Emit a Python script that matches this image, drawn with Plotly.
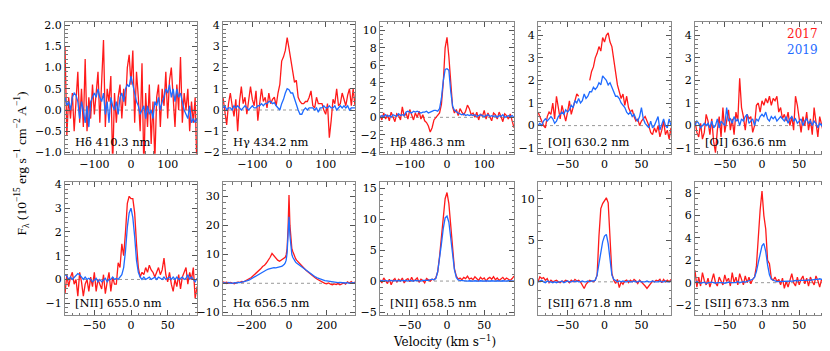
import plotly.graph_objects as go
from plotly.subplots import make_subplots

# velocity grids (km/s)
v180 = [-180, -175, -170, -165, -160, -155, -150, -145, -140, -135, -130, -125, -120, -115, -110, -105,
        -100, -95, -90, -85, -80, -75, -70, -65, -60, -55, -50, -45, -40, -35, -30, -25, -20, -15, -10, -5,
        0, 5, 10, 15, 20, 25, 30, 35, 40, 45, 50, 55, 60, 65, 70, 75, 80, 85, 90, 95, 100, 105, 110, 115,
        120, 125, 130, 135, 140, 145, 150, 155, 160, 165, 170, 175, 180]
v90 = [-90, -87.5, -85, -82.5, -80, -77.5, -75, -72.5, -70, -67.5, -65, -62.5, -60, -57.5, -55, -52.5,
       -50, -47.5, -45, -42.5, -40, -37.5, -35, -32.5, -30, -27.5, -25, -22.5, -20, -17.5, -15, -12.5,
       -10, -7.5, -5, -2.5, 0, 2.5, 5, 7.5, 10, 12.5, 15, 17.5, 20, 22.5, 25, 27.5, 30, 32.5, 35, 37.5,
       40, 42.5, 45, 47.5, 50, 52.5, 55, 57.5, 60, 62.5, 65, 67.5, 70, 72.5, 75, 77.5, 80, 82.5, 85, 87.5, 90]
v350 = [-350, -340, -330, -320, -310, -300, -290, -280, -270, -260, -250, -240, -230, -220, -210, -200,
        -190, -180, -170, -160, -150, -140, -130, -120, -110, -100, -90, -80, -70, -60, -50, -40,
        -35, -30, -25, -20, -15, -10, -5, 0, 5, 10, 15, 20, 25, 30, 35,
        40, 50, 60, 70, 80, 90, 100, 110, 120, 130, 140, 150, 160, 170, 180, 190, 200, 210, 220, 230,
        240, 250, 260, 270, 280, 290, 300, 310, 320, 330, 340, 350]

# H delta 410.3
hd_2017 = [1.5, -0.6, 0.3, -0.2, 0.4, -0.5, 0.2, 0.9, -0.3, 0.5,
           -0.4, 1.2, -0.5, 0.3, -0.2, 0.6, -0.1, 0.4, 0.9, -0.3,
           0.7, 1.65, -0.4, 0.5, 0.2, 0.8, -1.3, 0.4, -0.3, 0.3,
           0.6, -0.2, 0.5, 0.1, 1.0, 1.3, 0.6, 1.4, -0.3, 0.9,
           0.3, -0.5, 1.1, -1.4, 0.4, -0.4, 0.6, -0.8, 0.2, -1.2,
           0.3, 0.6, -0.4, 0.5, 0.1, 0.9, -0.2, 0.7, 1.0, 0.2,
           -0.4, 0.6, 0.0, 1.25, -0.3, 0.4, 0.0, 0.5, -0.5, 0.2,
           -0.3, 0.3, -1.5]
hd_2019 = [0.3, 0.1, 0.2, 0.0, 0.3, 0.4, 0.35, 0.2, -0.2, 0.2,
           0.0, -0.3, 0.1, -0.4, 0.2, 0.3, 0.4, 0.3, 0.5, 0.3,
           0.2, 0.4, -0.1, 0.2, -0.3, 0.3, 0.1, 0.0, 0.2, -0.1,
           0.3, 0.4, 0.2, 0.5, 0.6, 0.55, 0.8, 0.6, 0.4, 0.2,
           0.1, -0.1, 0.0, 0.1, -0.2, 0.1, -0.1, 0.0, -0.2, 0.2,
           0.1, 0.3, 0.0, 0.2, 0.3, 0.5, 0.4, 0.6, 0.3, 0.5,
           0.2, 0.5, 0.3, 0.4, 0.2, 0.0, -0.1, -0.2, 0.1, -0.3,
           -0.2, -0.3, -0.2]

# H gamma 434.2
hg_2017 = [0.6, -0.2, -0.7, 0.3, 0.8, 0.2, -0.3, 0.5, -1.0, 0.4,
           1.1, 0.3, 0.6, -0.2, 0.4, 1.1, 0.5, 0.2, 0.9, -0.5,
           0.3, 1.0, 0.4, 0.6, 0.1, 0.8, 0.3, 0.5, 0.6, 0.2,
           0.8, 1.2, 2.3, 2.5, 2.8, 3.4, 2.9, 2.4, 1.9, 1.3,
           1.4, 0.6, 0.4, 0.3, 0.3, 0.4, 0.4, 0.6, 0.9, 0.2,
           0.1, 0.6, 0.3, 0.3, 0.3, 0.0, -0.2, 0.3, -1.3, -0.5,
           0.5, 0.3, 1.0, 0.2, 0.3, 0.8, 0.5, 0.2, 0.7, 1.0,
           0.2, 1.0, 0.2]
hg_2019 = [0.1, 0.2, 0.0, 0.1, 0.1, 0.0, 0.2, 0.1, 0.2, 0.1,
           0.0, 0.1, 0.2, 0.1, 0.0, 0.1, 0.2, 0.1, 0.1, 0.2,
           0.2, 0.3, 0.2, 0.3, 0.3, 0.4, 0.4, 0.3, 0.35, 0.2,
           0.1, 0.0, 0.3, 0.5, 0.8, 1.0, 0.95, 0.8, 0.8, 0.5,
           0.3, 0.0, -0.2, -0.2, 0.0, 0.1, 0.0, 0.1, 0.1, 0.1,
           0.0, 0.1, -0.1, 0.1, 0.1, 0.2, 0.1, 0.1, 0.2, 0.1,
           0.1, 0.2, 0.0, 0.1, 0.2, 0.1, 0.2, 0.1, 0.2, 0.0,
           0.1, 0.1, 0.1]

# H beta 486.3
hb_2017 = [0.2, -0.3, 0.5, -0.2, 0.3, -0.4, 0.6, 0.0, -0.5, 0.4,
           0.2, -0.3, 1.2, 0.1, 0.5, -0.2, 0.9, 0.3, -0.3, 0.5,
           0.0, 0.7, -0.2, 0.3, -0.4, -0.6, -1.0, -1.7, -1.2, -0.3,
           0.0, 0.3, 0.5, 1.5, 4.0, 8.0, 9.2, 7.0, 3.5, 1.2,
           0.5, 0.9, 0.2, 1.0, 0.6, 0.3, 0.7, 1.4, 1.0, 0.3,
           0.5, 0.0, 0.6, -0.3, 0.4, 0.1, 0.8, -0.2, 0.5, 0.0,
           -0.4, 0.5, 0.3, -0.2, 0.6, 0.1, -0.5, 0.4, 0.2, -0.2,
           0.4, -0.4, -1.2]
hb_2019 = [0.0, 0.2, 0.1, 0.3, 0.1, 0.2, 0.0, 0.3, 0.2, 0.1,
           0.4, 0.2, 0.3, 0.2, 0.6, 0.7, 0.6, 0.5, 0.7, 0.6,
           0.7, 0.6, 0.5, 0.6, 0.6, 0.7, 0.5, 0.6, 0.7, 0.8,
           0.8, 0.7, 1.0, 2.2, 4.2, 5.5, 5.6, 5.4, 3.0, 1.3,
           0.8, 0.6, 0.5, 0.4, 0.3, 0.4, 0.2, 0.3, 0.2, 0.3,
           0.2, 0.3, 0.1, 0.2, 0.3, 0.2, 0.1, 0.2, 0.3, 0.1,
           0.2, 0.1, 0.2, 0.0, 0.2, 0.1, 0.3, 0.0, 0.1, 0.2,
           0.1, 0.2, 0.0]

# [OI] 630.2  (2017 has a masked gap)
oi630_2017 = [0.6, 0.4, 0.2, 0.0, -0.1, 0.4, 0.6, 0.5, 1.0, 0.3,
              1.3, 0.7, 0.3, 0.9, 0.5, 0.2, 0.6, 1.1, 0.5, 0.8,
              1.0, 1.4, 1.3, None, None, None, None, None, 2.0, 2.4,
              2.6, 3.0, 3.2, 3.5, 3.3, 3.9, 3.7, 4.0, 4.1, 3.7,
              3.5, 2.9, 2.5, 1.8, 1.5, 1.2, 1.4, 0.9, 1.3, 0.8,
              0.6, 0.7, 0.4, 0.2, 0.3, 0.0, 0.2, 0.3, 0.4, 0.2,
              0.0, -0.3, -0.4, -0.1, -0.3, 0.0, -0.5, -0.2, 0.2, -0.4,
              -0.2, -0.6, -0.1]
oi630_2019 = [0.0, 0.1, 0.0, 0.2, 0.3, 0.2, 0.3, 0.4, 0.3, 0.1,
              0.2, 0.4, 0.5, 0.6, 0.5, 0.7, 0.6, 0.7, 0.9, 0.8,
              1.1, 1.0, 1.2, 1.0, 1.1, 1.4, 1.2, 1.3, 1.5, 1.5,
              1.7, 1.6, 1.7, 1.9, 1.8, 2.2, 2.1, 2.0, 1.8, 1.9,
              1.7, 1.5, 1.3, 1.3, 1.2, 1.0, 0.9, 0.8, 0.6, 0.5,
              0.6, 0.4, 0.5, 0.3, 0.2, 0.4, 0.8, 0.3, 0.1, 0.0,
              -0.1, 0.2, -0.1, 0.0, 0.2, 0.4, -0.2, 0.1, 0.3, 0.0,
              -0.1, 0.3, 0.0]

# [OI] 636.6
oi636_2017 = [0.2, -0.3, -0.5, 0.1, -0.6, -0.3, 0.5, 0.2, -0.4, 0.3,
              -0.7, -1.2, -0.2, 0.4, -0.5, 0.8, -0.3, 0.2, 0.7, -0.2,
              0.3, -0.4, 0.6, 0.2, 2.1, 0.8, 0.4, -0.2, 0.5, 0.3,
              0.4, -0.3, 0.0, 0.9, 1.0, 0.6, 1.1, 0.9, 1.2, 1.0,
              1.3, 0.9, 1.2, 1.1, 1.3, 0.6, 0.8, 0.3, 0.5, 0.2,
              0.6, 0.0, 0.4, -0.2, 1.3, 0.9, 0.2, -0.3, 0.4, 0.0,
              0.6, -0.2, 0.3, -0.4, 0.8, 0.2, -0.5, 0.4, 0.1, -0.3,
              0.3, -0.4, 0.5]
oi636_2019 = [0.0, 0.2, 0.1, -0.1, 0.0, 0.1, 0.0, 0.1, -0.1, 0.2,
              -0.1, 0.0, 0.3, -0.1, 0.2, 0.1, 0.0, 0.8, 0.2, 0.3,
              0.1, 0.4, 0.2, 0.3, 0.0, 0.3, 0.2, 0.4, 0.5, 0.1,
              0.2, 0.3, 0.0, 0.3, 0.2, 0.4, 0.5, 0.4, 0.6, 0.3,
              0.2, 0.4, 0.3, 0.4, 0.2, 0.3, 0.4, 0.3, 0.2, 0.4,
              0.1, 0.3, 0.4, 0.2, 0.3, 0.1, 0.2, 0.3, 0.0, 0.2,
              0.3, 0.1, 0.2, 0.0, 0.2, 0.1, -0.1, 0.1, 0.0, 0.2,
              -0.1, 0.1, 0.0]

# [NII] 655.0
nii655_2017 = [-0.6, 0.2, -0.3, 0.1, 0.3, -0.2, 0.0, -0.7, 0.3, -0.1,
               -0.7, -0.2, 0.0, -0.5, 0.1, -0.3, 0.3, -0.5, 0.0, -0.2,
               -0.4, 0.2, -0.6, -0.1, 0.3, -0.5, 0.1, -0.2, -0.2, 0.7,
               0.5, 1.5, 1.0, 2.0, 3.2, 3.5, 3.4, 3.4, 2.8, 1.5,
               0.5, 0.1, 0.3, 0.2, 0.5, 0.3, 0.6, 0.4, 0.3, 0.1,
               0.3, 0.5, 0.2, 0.4, 0.9, 0.2, -0.1, 0.3, -0.2, -0.5,
               0.0, -0.3, 0.2, -0.4, 0.1, 0.3, 0.5, -0.2, 0.3, 0.0,
               0.5, -0.8, -0.3]
nii655_2019 = [0.2, 0.15, 0.0, 0.1, 0.0, 0.1, 0.2, 0.25, 0.2, 0.1,
               0.0, 0.1, 0.0, 0.05, 0.0, -0.1, 0.0, 0.05, -0.1, 0.0,
               -0.1, 0.0, 0.05, -0.1, 0.0, 0.0, 0.1, 0.0, 0.05, 0.0,
               0.1, 0.2, 0.5, 1.2, 2.2, 2.8, 3.0, 2.6, 1.8, 0.8,
               0.3, 0.1, 0.0, 0.1, 0.0, 0.05, 0.1, 0.0, 0.05, 0.1,
               0.0, 0.1, 0.05, 0.0, 0.1, 0.0, 0.05, 0.1, 0.0, 0.1,
               0.0, 0.1, 0.0, 0.05, 0.1, 0.0, 0.05, 0.2, 0.0, 0.1,
               0.0, -0.1, 0.05]

# H alpha 656.5
ha_2017 = [0.5, 0.2, 0.4, 0.0, 0.3, 0.1, -0.2, 0.2, 0.4, 0.3,
           0.6, 0.5, 0.9, 1.2, 1.5, 2.0, 2.6, 3.2, 3.6, 4.2,
           5.0, 5.8, 6.2, 7.0, 7.8, 9.0, 10.3, 9.5, 8.6, 8.0,
           7.6, 8.0,
           8.2, 8.5, 8.6, 9.0, 9.8, 12.0, 19.0, 30.5, 20.0, 14.5, 12.0, 11.0, 10.0, 9.2, 8.5,
           8.0, 7.2, 6.5, 5.8, 5.2, 4.5, 3.9, 3.3, 2.8, 2.2,
           1.8, 1.4, 1.0, 0.6, 0.3, 0.0, -0.2, 0.1, -0.3, -0.5,
           -0.2, -0.4, -0.1, -0.5, -0.2, 0.2, -0.3, 0.5, 0.1, 0.6,
           0.0, 0.4]
ha_2019 = [0.0, 0.2, -0.1, 0.3, 0.1, 0.0, 0.2, 0.1, 0.3, 0.2,
           0.4, 0.5, 0.6, 0.9, 1.2, 1.6, 2.0, 2.5, 2.9, 3.3,
           3.6, 4.0, 4.3, 4.6, 4.9, 5.1, 5.3, 5.4, 5.3, 5.4,
           5.5, 5.8,
           6.0, 6.2, 6.6, 7.0, 8.0, 10.5, 16.0, 23.0, 16.5, 12.0, 10.0, 9.0, 8.3, 7.8, 7.3,
           7.0, 6.5, 6.0, 5.5, 5.0, 4.4, 3.9, 3.4, 3.0, 2.6,
           2.2, 1.9, 1.6, 1.3, 1.1, 0.9, 0.8, 0.7, 0.5, 0.4,
           0.3, 0.4, 0.2, 0.3, 0.2, 0.3, 0.1, 0.2, 0.0, 0.1,
           0.2, 0.0]

# [NII] 658.5
nii658_2017 = [0.2, -0.3, 0.5, 0.0, -0.4, 0.3, -0.6, 0.1, 0.4, -0.2,
               0.3, 0.0, 0.5, -0.3, 0.2, 0.4, -0.1, 0.6, 0.0, 0.2,
               0.5, -0.2, 0.3, 0.1, -0.3, 0.4, 0.2, 0.0, 0.3, 0.2,
               0.5, 1.5, 4.0, 7.5, 11.0, 13.3, 14.3, 12.5, 9.0, 5.0,
               2.0, 0.8, 0.3, 0.5, 0.2, 0.6, 0.4, 0.8, 0.3, 0.5,
               0.2, 0.7, 0.4, 0.1, 0.6, 0.3, 0.5, 0.0, 0.4, 0.6,
               0.3, 0.7, 0.2, 0.5, 0.1, 0.4, 0.6, 0.2, 0.5, 0.3,
               0.1, 0.4, 0.8]
nii658_2019 = [0.0, 0.1, 0.0, 0.1, 0.0, 0.05, 0.1, 0.0, 0.1, 0.0,
               0.1, 0.0, 0.1, 0.05, 0.1, 0.0, 0.1, 0.05, 0.0, 0.1,
               0.05, 0.1, 0.0, 0.1, 0.05, 0.1, 0.1, 0.2, 0.3, 0.2,
               0.4, 1.5, 3.5, 6.0, 8.5, 10.2, 10.5, 9.5, 7.0, 4.0,
               1.8, 0.6, 0.2, 0.1, 0.05, 0.0, 0.05, 0.0, 0.05, 0.0,
               0.0, 0.05, 0.0, 0.0, 0.05, 0.0, 0.0, 0.05, 0.0, 0.0,
               0.05, 0.0, 0.0, 0.05, 0.0, 0.0, 0.05, 0.0, 0.0, 0.05,
               0.0, 0.05, 0.0]

# [SII] 671.8
sii671_2017 = [0.0, 0.6, 0.4, 0.5, 0.2, 0.4, -0.1, 0.2, 0.0, 0.1,
               0.2, 0.0, -0.1, 0.1, 0.0, 0.2, 0.1, -0.1, 0.2, 0.0,
               0.3, 0.1, 0.2, 0.0, -0.4, -0.8, -0.3, 0.0, 0.2, 0.1,
               0.0, 0.2, 0.8, 5.5, 8.8, 9.4, 9.7, 10.1, 9.5, 5.0,
               1.0, 0.2, -0.2, 0.3, -0.7, 0.0, -0.3, 0.1, 0.2, -0.1,
               0.2, 0.0, 0.3, 0.1, -0.2, 0.2, 0.0, -0.3, -0.5, -0.8,
               -0.5, -0.2, 0.1, 0.0, 0.2, 0.1, 0.3, -0.1, 0.3, 0.0,
               0.2, 0.0, 0.3]
sii671_2019 = [0.0, 0.1, 0.2, 0.0, -0.1, 0.1, 0.0, 0.0, -0.1, 0.0,
               -0.1, 0.0, 0.0, 0.1, -0.1, 0.0, 0.1, 0.0, 0.0, 0.1,
               0.0, 0.1, 0.0, 0.0, 0.1, 0.0, 0.0, 0.1, 0.0, 0.1,
               0.1, 0.2, 0.8, 2.2, 3.8, 4.8, 5.5, 5.7, 4.6, 2.6,
               0.8, 0.3, 0.1, 0.0, 0.1, 0.0, 0.1, 0.0, 0.0, 0.1,
               0.0, 0.0, 0.1, 0.0, 0.0, 0.1, 0.0, 0.0, 0.0, 0.1,
               0.0, 0.0, 0.1, 0.0, 0.0, 0.0, 0.1, 0.0, 0.0, 0.1,
               0.0, 0.0, 0.1]

# [SII] 673.3
sii673_2017 = [1.1, -0.4, 0.5, -0.3, 0.9, 0.2, -0.2, 0.4, -0.4, 0.1,
               0.8, 0.0, -0.3, 0.5, 0.2, -0.2, 0.7, 0.1, 0.4, -0.3,
               0.9, 0.0, 0.5, -0.2, 0.8, 0.3, -0.2, 0.6, 0.0, 0.5,
               -0.1, 0.3, 0.5, 1.5, 4.5, 6.5, 8.2, 6.0, 4.8, 2.0,
               1.7, 0.4, 0.2, 0.5, 0.1, 0.3, -0.2, 0.4, -0.5, 0.1,
               -0.4, 0.2, 0.8, 0.0, -0.3, 0.5, -0.2, 0.3, 0.6, -0.1,
               0.4, -0.3, 0.5, 0.1, -0.2, 0.6, 0.2, -0.4, 0.3, 0.0,
               0.5, -0.2, 0.6]
sii673_2019 = [0.0, 0.1, 0.0, -0.05, 0.0, 0.05, -0.1, 0.0, 0.0, 0.05,
               0.0, -0.05, 0.0, 0.0, 0.05, 0.0, -0.05, 0.0, 0.05, 0.0,
               0.0, 0.05, 0.0, 0.1, 0.0, 0.05, 0.1, 0.05, 0.1, 0.2,
               0.2, 0.3, 0.5, 1.0, 1.8, 2.7, 3.3, 3.5, 2.8, 1.6,
               0.7, 0.3, 0.2, 0.15, 0.1, 0.1, 0.1, 0.15, 0.1, 0.1,
               0.1, 0.15, 0.1, 0.15, 0.2, 0.15, 0.2, 0.2, 0.15, 0.2,
               0.2, 0.25, 0.2, 0.25, 0.3, 0.3, 0.3, 0.35, 0.3, 0.35,
               0.4, 0.4, 0.45]

line_labels = ["Hδ 410.3 nm", "Hγ 434.2 nm", "Hβ 486.3 nm", "[OI] 630.2 nm", "[OI] 636.6 nm",
               "[NII] 655.0 nm", "Hα 656.5 nm", "[NII] 658.5 nm", "[SII] 671.8 nm", "[SII] 673.3 nm"]

# (velocity, 2017, 2019, xrange, yrange, x dtick, x minor, y dtick, y minor, y format)
panels = [
    (v180, hd_2017, hd_2019, [-180, 180], [-1.03, 2.08], 100, 20, 0.5, 0.1, ".1f"),
    (v180, hg_2017, hg_2019, [-180, 180], [-2.06, 4.15], 100, 20, 1, 0.2, ""),
    (v180, hb_2017, hb_2019, [-180, 180], [-4.2, 11.0], 100, 20, 2, 0.5, ""),
    (v90, oi630_2017, oi630_2019, [-90, 90], [-1.25, 4.6], 50, 10, 1, 0.2, ""),
    (v90, oi636_2017, oi636_2019, [-90, 90], [-1.25, 4.6], 50, 10, 1, 0.2, ""),
    (v90, nii655_2017, nii655_2019, [-90, 90], [-1.5, 4.1], 50, 10, 1, 0.2, ""),
    (v350, ha_2017, ha_2019, [-350, 350], [-11, 35], 200, 50, 10, 2, ""),
    (v90, nii658_2017, nii658_2019, [-90, 90], [-5.5, 16], 50, 10, 5, 1, ""),
    (v90, sii671_2017, sii671_2019, [-90, 90], [-4.0, 12.0], 50, 10, 5, 1, ""),
    (v90, sii673_2017, sii673_2019, [-90, 90], [-2.9, 9.0], 50, 10, 2, 0.5, ""),
]

W, H = 830, 351
col_px = [(57, 189), (215, 347), (372, 506), (530, 663), (687, 821)]
row_px = [(10, 146), (175, 312)]
RED = "#ff1a1a"
BLUE = "#1f6bff"
FONT = "DejaVu Serif"

fig = make_subplots(rows=2, cols=5)

for i, (v, r, b, xr, yr, xdt, xmn, ydt, ymn, yfmt) in enumerate(panels):
    row, col = i // 5 + 1, i % 5 + 1
    fig.add_trace(go.Scatter(x=v, y=r, mode="lines", line=dict(color=RED, width=1.3),
                             showlegend=False, connectgaps=False), row=row, col=col)
    fig.add_trace(go.Scatter(x=v, y=b, mode="lines", line=dict(color=BLUE, width=1.3),
                             showlegend=False), row=row, col=col)
    n = "" if i == 0 else str(i + 1)
    x0, x1 = col_px[col - 1]
    y0, y1 = row_px[row - 1]
    axstyle = dict(showgrid=False, zeroline=False, showline=True, linecolor="#8a8a8a", linewidth=1,
                   mirror="allticks", ticks="inside", ticklen=5, tickcolor="#555",
                   tickfont=dict(family=FONT, size=11, color="black"))
    fig.update_layout({
        f"xaxis{n}": dict(domain=[x0 / W, x1 / W], range=xr, dtick=xdt, tick0=0,
                          minor=dict(ticks="inside", ticklen=2.5, dtick=xmn, tickcolor="#777"), **axstyle),
        f"yaxis{n}": dict(domain=[1 - y1 / H, 1 - y0 / H], range=yr, dtick=ydt, tick0=0, tickformat=yfmt,
                          minor=dict(ticks="inside", ticklen=2.5, dtick=ymn, tickcolor="#777"), **axstyle),
    })
    # dotted zero level
    fig.add_shape(type="line", xref=f"x{n} domain", yref=f"y{n}", x0=0, x1=1, y0=0, y1=0,
                  line=dict(color="#999", width=1, dash="dot"), layer="below")
    fig.add_annotation(text=line_labels[i], xref=f"x{n} domain", yref=f"y{n} domain",
                       x=0.06, y=0.02, xanchor="left", yanchor="bottom", showarrow=False,
                       font=dict(family=FONT, size=11.5, color="black"))

# year labels in the last top panel
fig.add_annotation(text="2017", xref="paper", yref="paper", x=812 / W, y=1 - 23 / H,
                   xanchor="right", yanchor="middle", showarrow=False,
                   font=dict(family=FONT, size=12, color=RED))
fig.add_annotation(text="2019", xref="paper", yref="paper", x=812 / W, y=1 - 39 / H,
                   xanchor="right", yanchor="middle", showarrow=False,
                   font=dict(family=FONT, size=12, color=BLUE))

fig.add_annotation(text="F<sub>λ</sub> (10<sup>−15</sup> erg s<sup>−1</sup> cm<sup>−2</sup> A<sup>−1</sup>)",
                   xref="paper", yref="paper", x=14 / W, y=1 - 156 / H, textangle=-90,
                   xanchor="center", yanchor="middle", showarrow=False,
                   font=dict(family="Liberation Serif", size=13.5, color="black"))
fig.add_annotation(text="Velocity (km s<sup>−1</sup>)", xref="paper", yref="paper",
                   x=436 / W, y=1 - 339 / H, xanchor="center", yanchor="middle", showarrow=False,
                   font=dict(family=FONT, size=12, color="black"))

fig.update_layout(width=W, height=H, margin=dict(l=0, r=0, t=0, b=0),
                  plot_bgcolor="white", paper_bgcolor="white")

fig.write_html("out.html")
